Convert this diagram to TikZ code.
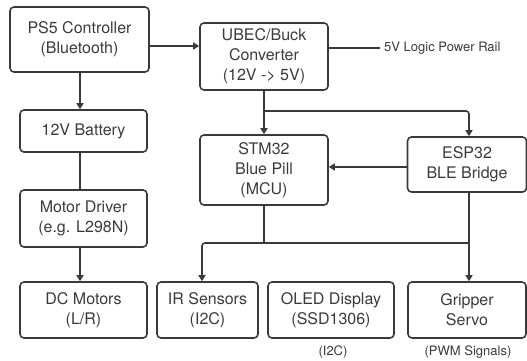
\documentclass[tikz,border=0pt]{standalone}
\usepackage{fontspec}
\setmainfont{TeX Gyre Heros}
\usetikzlibrary{arrows.meta}
\definecolor{ink}{HTML}{3A3A3A}
\begin{document}
\begin{tikzpicture}[x=1pt, y=-1pt,
    box/.style={draw=ink, line width=1.6pt, rectangle, rounded corners=4pt, align=center, text=ink, font=\fontsize{16}{20}\selectfont, inner sep=0pt},
    note/.style={text=ink, font=\fontsize{13}{16}\selectfont, inner sep=0pt},
    line/.style={draw=ink, line width=1.6pt},
    arrow/.style={line, -{Triangle[length=6pt, width=7pt]}},
]
\useasboundingbox (0,0) rectangle (527,360);

% Power and drive chain
\node[box, minimum width=139pt, minimum height=65pt] (ps5) at (79.5,39.5) {PS5 Controller\\(Bluetooth)};
\node[box, minimum width=127pt, minimum height=42pt] (bat) at (83.5,131) {12V Battery};
\node[box, minimum width=127pt, minimum height=57pt] (md) at (83.5,218.5) {Motor Driver\\(e.g. L298N)};
\node[box, minimum width=127pt, minimum height=56pt] (dc) at (83.5,310) {DC Motors\\(L/R)};

% Logic
\node[box, minimum width=128pt, minimum height=67pt] (ubec) at (264,56.5) {UBEC/Buck\\Converter\\(12V -{}> 5V)};
\node[box, minimum width=128pt, minimum height=70pt] (stm) at (264,170) {STM32\\Blue Pill\\(MCU)};
\node[box, minimum width=119pt, minimum height=55pt] (esp) at (467,164.5) {ESP32\\BLE Bridge};

% Peripherals
\node[box, minimum width=101pt, minimum height=56pt] (ir) at (207.5,310) {IR Sensors\\(I2C)};
\node[box, minimum width=126pt, minimum height=56pt] (oled) at (331,310) {OLED Display\\(SSD1306)};
\node[box, minimum width=118pt, minimum height=56pt] (grip) at (467,310) {Gripper\\Servo};

% Notes
\node[note, anchor=west] (rail) at (384,48) {5V Logic Power Rail};
\node[note] (i2c) at (333,352) {(I2C)};
\node[note] (pwm) at (468,352) {(PWM Signals)};

% Connections
\draw[arrow] ([yshift=-6.5pt]ps5.east) coordinate (c1) -- (c1 -| ubec.west);
\draw[line] ([yshift=8.5pt]ubec.east) -- ([xshift=-4pt]rail.west);
\draw[arrow] (ubec.south) -- (stm.north);
\coordinate (split) at (264,111);
\draw[arrow, rounded corners=3pt] (split) -| ([xshift=2pt]esp.north);
\draw[arrow] ([yshift=-2.5pt]esp.west) coordinate (c2) -- (c2 -| stm.east);

\coordinate (bus) at (265,243);
\draw[line] (stm.south) -- (stm.south |- bus);
\draw[arrow] ([xshift=2pt]esp.south) -- ([xshift=2pt]grip.north);
\draw[arrow, rounded corners=3pt] ([xshift=2pt]esp.south |- bus) -| ([xshift=-5.5pt]ir.north);

\draw[arrow] ([xshift=0.5pt]ps5.south) coordinate (c3) -- (c3 |- bat.north);
\draw[line] (c3 |- bat.south) -- (c3 |- md.north);
\draw[arrow] (c3 |- md.south) -- (c3 |- dc.north);
\end{tikzpicture}
\end{document}
